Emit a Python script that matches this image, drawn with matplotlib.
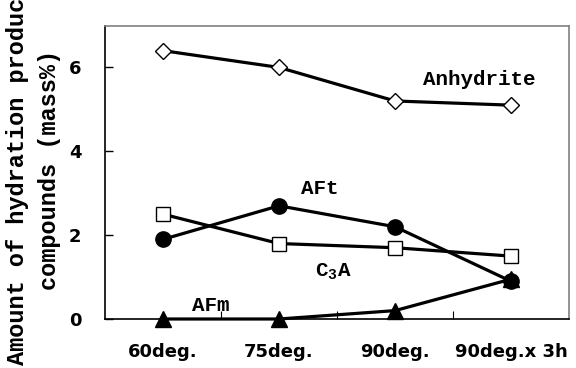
import matplotlib
matplotlib.use("Agg")
import matplotlib.pyplot as plt
import numpy as np

categories = ["60deg.", "75deg.", "90deg.", "90deg.x 3h"]
anhydrite = [6.4, 6.0, 5.2, 5.1]
aft = [1.9, 2.7, 2.2, 0.9]
c3a = [2.5, 1.8, 1.7, 1.5]
afm = [0.0, 0.0, 0.2, 0.95]
yticks = [0, 2, 4, 6]

mono = "Liberation Mono"
plt.rcParams['mathtext.fontset'] = 'custom'
plt.rcParams['mathtext.rm'] = 'Liberation Mono:bold'

fig = plt.figure(figsize=(5.76, 3.68), dpi=100)
ax = fig.add_axes([105/576, 1-319/368, 464/576, (319-25.5)/368])

x = np.arange(len(categories)) + 0.5
lw = 2.3
ax.plot(x, anhydrite, color='black', lw=lw, marker='D', ms=8.5,
        mfc='white', mec='black', mew=1.0, zorder=3)
ax.plot(x, c3a, color='black', lw=lw, marker='s', ms=10,
        mfc='white', mec='black', mew=1.0, zorder=3)
ax.plot(x, afm, color='black', lw=lw, marker='^', ms=12,
        mfc='black', mec='black', zorder=3, clip_on=False)
ax.plot(x, aft, color='black', lw=lw, marker='o', ms=11,
        mfc='black', mec='black', zorder=4)

ax.set_xlim(0, 4)
ax.set_ylim(0, 7)
ax.set_yticks(yticks)
ax.set_yticklabels([str(v) for v in yticks], fontfamily='DejaVu Sans',
                   fontweight='bold', fontsize=13)
ax.tick_params(axis='y', direction='in', length=6, width=1, pad=17)

ax.set_xticks([1, 2, 3])
ax.set_xticklabels([])
ax.tick_params(axis='x', which='major', direction='in', length=6, width=0.8)
ax.set_xticks(x, minor=True)
ax.set_xticklabels(categories, minor=True, fontfamily='DejaVu Sans',
                   fontweight='bold', fontsize=13)
ax.tick_params(axis='x', which='minor', length=0, pad=17)

for s in ['left', 'bottom']:
    ax.spines[s].set_color('black')
    ax.spines[s].set_linewidth(1.2)
for s in ['top', 'right']:
    ax.spines[s].set_color('#808080')
    ax.spines[s].set_linewidth(1.2)

tk = dict(fontfamily=mono, fontweight='bold', fontsize=15, ha='center', va='center')
ax.text(3.23, 5.72, "Anhydrite", **tk)
ax.text(1.85, 3.11, "AFt", **tk)
ax.text(1.97, 1.14, "C$_3$A", **tk)
ax.text(0.91, 0.33, "AFm", **tk)

fig.text(18/576, 1-365/368, "Amount of hydration products", rotation=90,
         fontfamily=mono, fontweight='bold', fontsize=17, ha='center', va='bottom')
fig.text(50/576, 1-170/368, "compounds (mass%)", rotation=90,
         fontfamily=mono, fontweight='bold', fontsize=17, ha='center', va='center')

fig.savefig("out.png", dpi=100)
